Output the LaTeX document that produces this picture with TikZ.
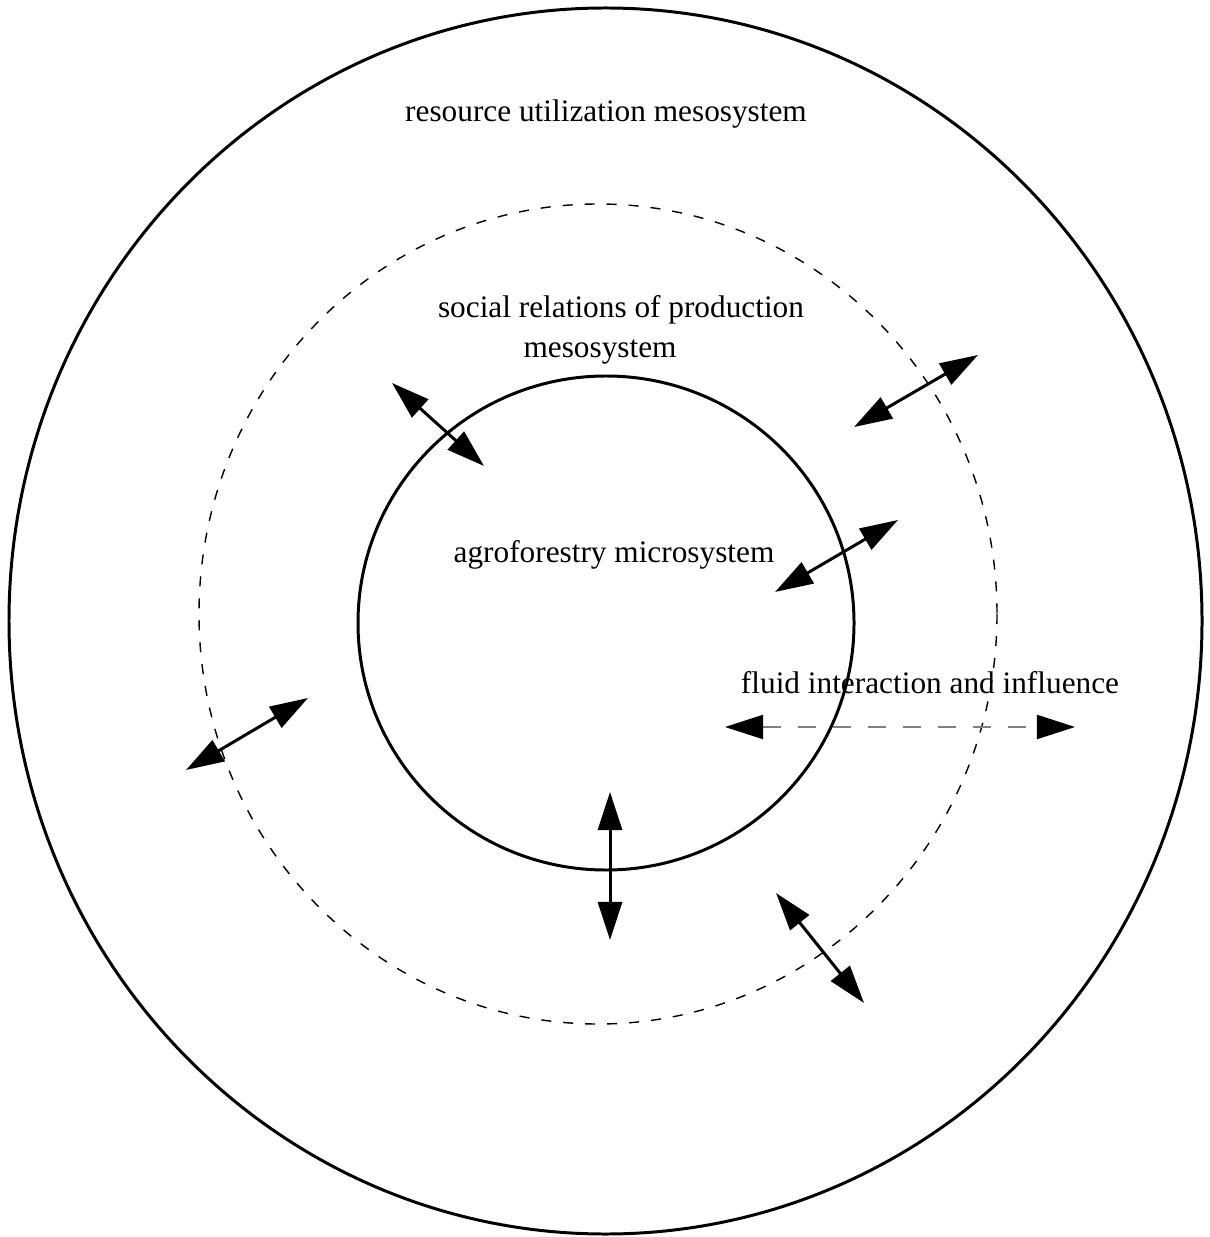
\documentclass[tikz,border=0pt]{standalone}
\usepackage{fontspec}
\setmainfont{Liberation Serif}
\usetikzlibrary{arrows.meta}
\tikzset{font=\fontsize{8.9}{10.7}\selectfont}
\tikzset{
	biarrow/.style={{Triangle[length=0.38cm,width=0.24cm]}-{Triangle[length=0.38cm,width=0.24cm]}, line width=0.85pt},
	fluidarrow/.style={{Triangle[length=0.38cm,width=0.24cm,black]}-{Triangle[length=0.38cm,width=0.24cm,black]}, line width=0.6pt, draw=gray, dash pattern=on 0.18cm off 0.17cm},
	label/.style={anchor=base, inner sep=0pt}
}

\begin{document}
\begin{tikzpicture}[x=0.01cm, y=-0.01cm]
	\useasboundingbox (0,0) rectangle (1209,1237);
	\begin{scope}
		% the three systems
		\draw[line width=0.85pt] (605.5,621) ellipse [x radius=596.5, y radius=613];
		\draw[line width=0.4pt, dash pattern=on 0.1cm off 0.12cm] (598,614) ellipse [x radius=399, y radius=410];
		\draw[line width=0.85pt] (606,623) ellipse [x radius=248, y radius=247];

		\node[label] (resource) at (606, 122) {resource utilization mesosystem};
		\node[label] (social) at (621, 318) {social relations of production};
		\node[label] (socialb) at (600, 358) {mesosystem};
		\node[label] (agro) at (614, 562) {agroforestry microsystem};
		\node[label] (fluid) at (930, 693) {fluid interaction and influence};

		\coordinate (a1) at (392, 383);
		\coordinate (a2) at (484, 466);
		\coordinate (b1) at (854, 427);
		\coordinate (b2) at (978, 355);
		\coordinate (c1) at (775, 592);
		\coordinate (c2) at (898, 520);
		\coordinate (d1) at (186, 770);
		\coordinate (d2) at (308, 698);
		\coordinate (e1) at (610, 792);
		\coordinate (e2) at (610, 940);
		\coordinate (f1) at (776, 893);
		\coordinate (f2) at (864, 1003);
		\coordinate (g1) at (725, 727);
		\coordinate (g2) at (1075, 727);

		\draw[biarrow] (a1) -- (a2);
		\draw[biarrow] (b1) -- (b2);
		\draw[biarrow] (c1) -- (c2);
		\draw[biarrow] (d1) -- (d2);
		\draw[biarrow] (e1) -- (e2);
		\draw[biarrow] (f1) -- (f2);
		\draw[fluidarrow] (g1) -- (g2);
	\end{scope}
\end{tikzpicture}
\end{document}
